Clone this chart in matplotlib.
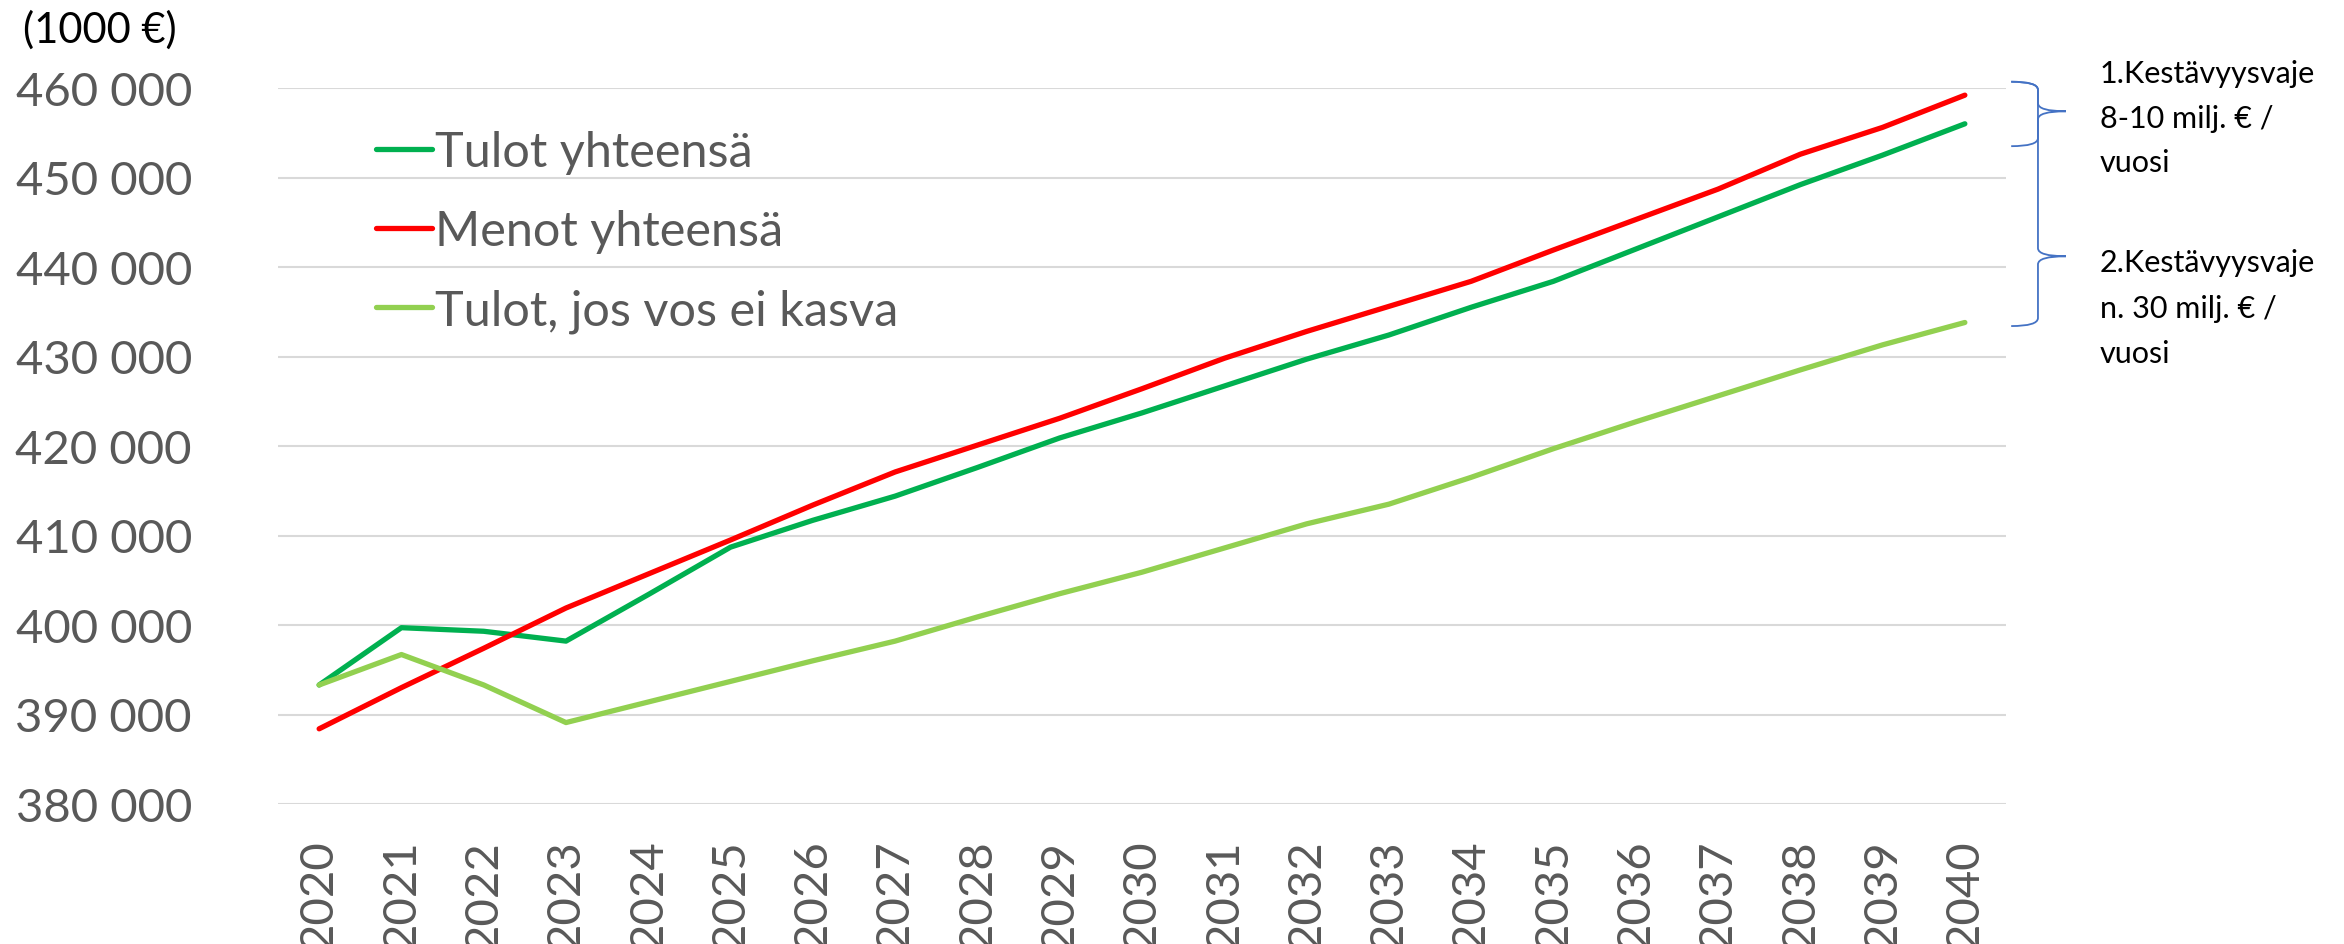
import matplotlib
matplotlib.use("Agg")
import matplotlib.pyplot as plt
from matplotlib.path import Path
from matplotlib.patches import PathPatch

plt.rcParams['font.family'] = ['Lato', 'DejaVu Sans']

# values in 1000 €
years = list(range(2020, 2041))
tulot = [393300, 399700, 399300, 398200, 403400, 408700, 411700, 414400, 417600, 420900,
         423700, 426700, 429700, 432400, 435500, 438400, 442000, 445600, 449200, 452500, 456000]
menot = [388400, 393000, 397400, 401900, 405700, 409500, 413400, 417100, 420100, 423100,
         426400, 429800, 432800, 435600, 438400, 441900, 445300, 448700, 452600, 455600, 459200]
tulot_vos = [393300, 396700, 393300, 389100, 391400, 393700, 396000, 398200, 400900, 403500,
             405900, 408600, 411300, 413500, 416500, 419700, 422700, 425600, 428500, 431300, 433800]

series_names = ['Tulot yhteensä', 'Menot yhteensä', 'Tulot, jos vos ei kasva']
series_colors = ['#00B050', '#FF0000', '#92D050']

yticks = list(range(380000, 460001, 10000))

W, H = 2344, 945
fig = plt.figure(figsize=(W / 100, H / 100), dpi=100)
ax = fig.add_axes([278 / W, 1 - 805 / H, (2006 - 278) / W, (805 - 89) / H])

for vals, name, col in zip([tulot, menot, tulot_vos], series_names, series_colors):
    ax.plot(years, vals, color=col, lw=3.8, label=name,
            solid_capstyle='round', solid_joinstyle='round')

ax.set_xlim(2019.5, 2040.5)
ax.set_ylim(380000, 460000)
ax.set_yticks(yticks)
ax.set_yticklabels([f"{v:,}".replace(",", " ") for v in yticks])
ax.set_xticks(years)
ax.set_xticklabels([str(y) for y in years], rotation=90)
ax.tick_params(axis='y', length=0, pad=62, labelsize=34, labelcolor='#595959')
ax.tick_params(axis='x', length=0, pad=25, labelsize=34, labelcolor='#595959')
for lab in ax.get_xticklabels():
    lab.set_verticalalignment('top')

ax.yaxis.grid(True, color='#D9D9D9', lw=1.5)
ax.set_axisbelow(True)
for s in ax.spines.values():
    s.set_visible(False)

leg = ax.legend(loc='upper left', bbox_to_anchor=(0.0567, 0.941), frameon=False,
                fontsize=35, handlelength=1.15, handletextpad=0.06,
                labelspacing=0.72, borderpad=0, borderaxespad=0)
for t in leg.get_texts():
    t.set_color('#595959')

fig.text(23 / W, 1 - 30 / H, '(1000 €)', fontsize=30, color='black', va='center', ha='left')


# curly braces on the right side (x in axes fraction, y in data units)
def brace(y_top, y_tip, y_bot):
    x0, xs, xt = 1.003, 1.0185, 1.0347
    ry = 900
    verts = [(x0, y_top), (xs, y_top), (xs, y_top - ry),
             (xs, y_tip + ry), (xs, y_tip), (xt, y_tip),
             (xs, y_tip), (xs, y_tip - ry),
             (xs, y_bot + ry), (xs, y_bot), (x0, y_bot)]
    codes = [Path.MOVETO, Path.CURVE3, Path.CURVE3,
             Path.LINETO, Path.CURVE3, Path.CURVE3,
             Path.CURVE3, Path.CURVE3,
             Path.LINETO, Path.CURVE3, Path.CURVE3]
    p = PathPatch(Path(verts, codes), fill=False, edgecolor='#4472C4', lw=1.3,
                  transform=ax.get_yaxis_transform(), clip_on=False)
    ax.add_patch(p)


brace(460700, 457400, 453500)
brace(460700, 441200, 433400)

notes = [("1.Kestävyysvaje", 83), ("8-10 milj. € /", 128), ("vuosi", 172),
         ("2.Kestävyysvaje", 272), ("n. 30 milj. € /", 318), ("vuosi", 363)]
for txt, yb in notes:
    fig.text(2100 / W, 1 - yb / H, txt, fontsize=22, color='black', va='baseline', ha='left')

fig.savefig('out.png', dpi=100)
